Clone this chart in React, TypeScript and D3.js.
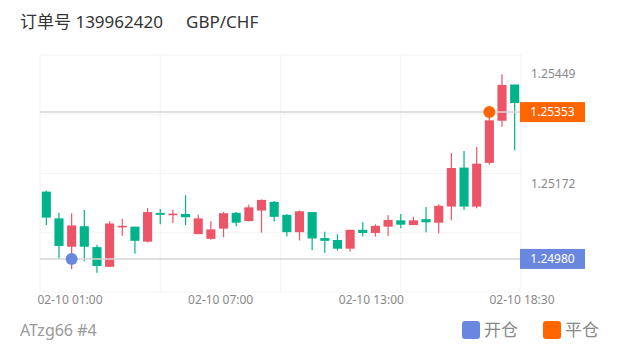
import React from "react";
import * as d3 from "d3";

const categories = [
  "02-10 00:00","02-10 00:30","02-10 01:00","02-10 01:30","02-10 02:00","02-10 02:30",
  "02-10 03:00","02-10 03:30","02-10 04:00","02-10 04:30","02-10 05:00","02-10 05:30",
  "02-10 06:00","02-10 06:30","02-10 07:00","02-10 07:30","02-10 08:00","02-10 08:30",
  "02-10 09:00","02-10 09:30","02-10 10:00","02-10 10:30","02-10 11:00","02-10 11:30",
  "02-10 12:00","02-10 12:30","02-10 13:00","02-10 13:30","02-10 14:00","02-10 14:30",
  "02-10 15:00","02-10 15:30","02-10 16:00","02-10 16:30","02-10 17:00","02-10 17:30",
  "02-10 18:00","02-10 18:30",
];
const opens = [
  1.25151,1.25083,1.25011,1.25063,1.25010,1.24960,1.25060,1.25062,1.25024,1.25097,
  1.25091,1.25094,1.25043,1.25031,1.25057,1.25097,1.25076,1.25103,1.25125,1.25092,
  1.25048,1.25099,1.25033,1.25028,1.25006,1.25054,1.25046,1.25062,1.25078,1.25066,
  1.25081,1.25072,1.25113,1.25212,1.25113,1.25224,1.25331,1.25423,
];
const closes = [
  1.25085,1.25013,1.25065,1.25011,1.24962,1.25070,1.25064,1.25026,1.25099,1.25092,
  1.25095,1.25086,1.25083,1.25055,1.25096,1.25072,1.25111,1.25130,1.25087,1.25048,
  1.25101,1.25032,1.25026,1.25006,1.25054,1.25046,1.25064,1.25079,1.25067,1.25078,
  1.25073,1.25115,1.25211,1.25113,1.25222,1.25332,1.25422,1.25376,
];
const highs = [
  1.25154,1.25097,1.25096,1.25104,1.25016,1.25076,1.25082,1.25062,1.25109,1.25107,
  1.25105,1.25142,1.25092,1.25076,1.25099,1.25099,1.25118,1.25131,1.25127,1.25094,
  1.25103,1.25099,1.25049,1.25043,1.25054,1.25073,1.25068,1.25091,1.25094,1.25087,
  1.25112,1.25119,1.25249,1.25254,1.25264,1.25360,1.25449,1.25423,
];
const lows = [
  1.25066,1.24981,1.24954,1.24974,1.24945,1.24960,1.25039,1.24993,1.25022,1.25068,
  1.25071,1.25066,1.25043,1.25029,1.25035,1.25063,1.25076,1.25047,1.25075,1.25037,
  1.25027,1.25002,1.24996,1.25001,1.24999,1.25037,1.25037,1.25038,1.25058,1.25066,
  1.25048,1.25045,1.25078,1.25105,1.25109,1.25219,1.25316,1.25256,
];

const xTickLabels = ["02-10 01:00", "02-10 07:00", "02-10 13:00", "02-10 18:30"];
const yTickValues = [1.25449, 1.25172];

const openPoint = { index: 2, price: 1.2498 };
const closePoint = { index: 35, price: 1.25353 };

const title = "订单号 139962420";
const symbol = "GBP/CHF";
const footer = "ATzg66 #4";
const legendItems = [
  { name: "开仓", color: "#6a87e0" },
  { name: "平仓", color: "#ff6600" },
];

const UP = "#ec5467";
const DOWN = "#00b38a";
const FONT = "'Noto Sans', 'Noto Sans CJK SC', sans-serif";

export default function App() {
  const W = 620, H = 350;
  const left = 40, right = 521, top = 55, bottom = 292;

  const x = d3.scaleBand<string>().domain(categories).range([left, right]).paddingInner(0).paddingOuter(0);
  const y = d3.scaleLinear().domain([1.24896, 1.25498]).range([bottom, top]);
  const bw = x.bandwidth();
  const bodyW = bw * 0.72;
  const cx = (i: number) => (x(categories[i]) as number) + bw / 2;

  const xLab = d3.scalePoint<string>().domain(xTickLabels).range([70, 522]);
  const gridX = d3.range(5).map((k) => left + ((right - left) * k) / 4);
  const gridY = d3.range(5).map((k) => top + ((bottom - top) * k) / 4);
  const fmt = d3.format(".5f");

  const marks = [
    { ...openPoint, color: legendItems[0].color },
    { ...closePoint, color: legendItems[1].color },
  ];

  return (
    <svg width={W} height={H} style={{ position: "absolute", left: 0, top: 0, background: "#fff" }} fontFamily={FONT}>
      <text x={20} y={28} fontSize={17} fill="#333">{title}</text>
      <text x={186} y={28} fontSize={17} fill="#333">{symbol}</text>

      {gridY.map((gy, i) => (
        <line key={"gy" + i} x1={left} x2={right} y1={gy} y2={gy} stroke="#f3f3f3" strokeWidth={1} />
      ))}
      {gridX.map((gx, i) => (
        <line key={"gx" + i} x1={gx} x2={gx} y1={top} y2={bottom} stroke="#f3f3f3" strokeWidth={1} />
      ))}

      {categories.map((c, i) => {
        const o = opens[i], cl = closes[i];
        const up = cl >= o;
        const col = up ? UP : DOWN;
        const yt = y(Math.max(o, cl));
        const yb = y(Math.min(o, cl));
        return (
          <g key={c}>
            <line x1={cx(i)} x2={cx(i)} y1={y(highs[i])} y2={y(lows[i])} stroke={col} strokeWidth={1.2} />
            <rect x={cx(i) - bodyW / 2} y={yt} width={bodyW} height={Math.max(1.5, yb - yt)} fill={col} />
          </g>
        );
      })}

      {marks.map((m, i) => (
        <g key={"m" + i}>
          <line x1={left} x2={right} y1={y(m.price)} y2={y(m.price)} stroke="#d4d4d4" strokeWidth={1.5} />
        </g>
      ))}
      {marks.map((m, i) => (
        <g key={"mk" + i}>
          <circle cx={cx(m.index)} cy={y(m.price)} r={6} fill={m.color} />
          <rect x={right - 1} y={y(m.price) - 10} width={65} height={20} fill={m.color} />
          <text x={right - 1 + 32.5} y={y(m.price)} dy="0.35em" textAnchor="middle" fontSize={12} fill="#fff">
            {fmt(m.price)}
          </text>
        </g>
      ))}

      {yTickValues.map((v, i) => (
        <text key={"yt" + i} x={531} y={y(v)} dy="0.35em" fontSize={12} fill="#888">{fmt(v)}</text>
      ))}

      {xTickLabels.map((l) => (
        <text key={l} x={xLab(l)} y={304} textAnchor="middle" fontSize={12} fill="#888">{l}</text>
      ))}

      <text x={20} y={336} fontSize={16} fill="#999">{footer}</text>
      {legendItems.map((it, i) => (
        <g key={it.name} transform={`translate(${462 + i * 81},321)`}>
          <rect x={0} y={0} width={18} height={18} rx={3} fill={it.color} />
          <text x={22} y={15} fontSize={17} fill="#888">{it.name}</text>
        </g>
      ))}
    </svg>
  );
}
